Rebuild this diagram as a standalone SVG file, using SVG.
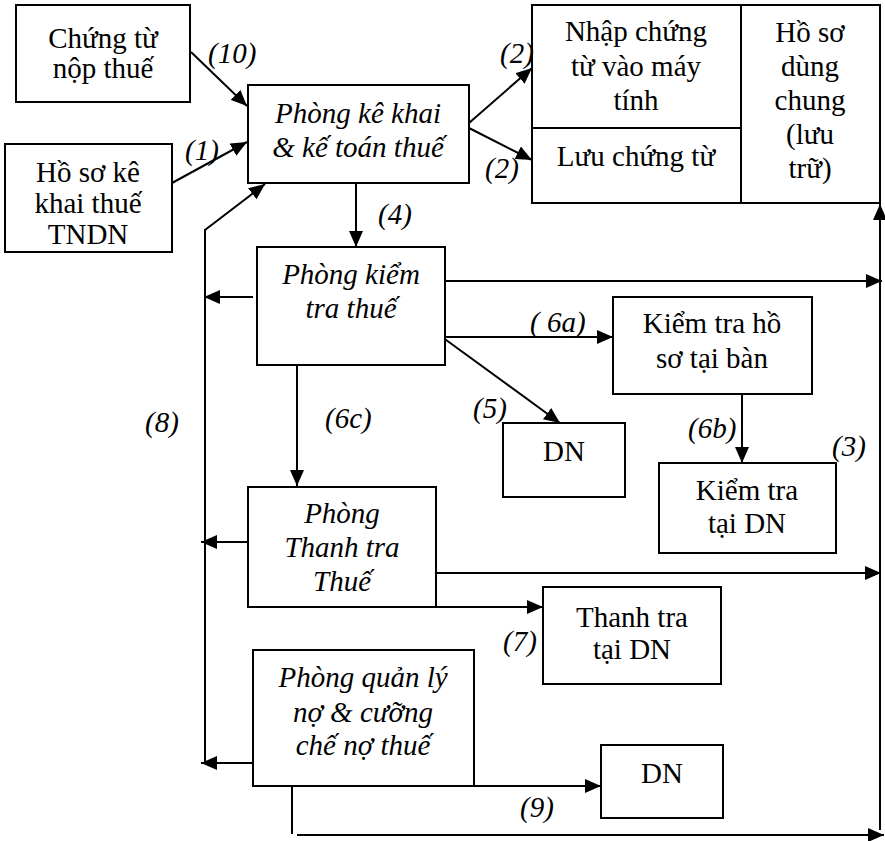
<svg xmlns="http://www.w3.org/2000/svg" width="885" height="841" viewBox="0 0 885 841" font-family="'Liberation Serif', 'Times New Roman', Times, 'DejaVu Serif', serif">
<style>
.box{fill:#fff;stroke:#000;stroke-width:2}
text{font-family:'Liberation Serif','Times New Roman',Times,'DejaVu Serif',serif;font-size:29px;fill:#000}
.t{text-anchor:middle}
.i{font-style:italic}
.lb{font-style:italic}
.c{fill:none;stroke:#000;stroke-width:2}
</style>
<defs>
<marker id="ah" markerUnits="userSpaceOnUse" markerWidth="18" markerHeight="14" refX="16" refY="7" orient="auto">
<path d="M0,0 L16,7 L0,14 z" fill="#000"/>
</marker>
</defs>
<rect width="885" height="841" fill="#fff"/>
<g id="connectors">
<line class="c" x1="191" y1="52" x2="247" y2="106" marker-end="url(#ah)"/>
<line class="c" x1="172" y1="183" x2="247" y2="142" marker-end="url(#ah)"/>
<line class="c" x1="205" y1="230" x2="265" y2="184" marker-end="url(#ah)"/>
<line class="c" x1="205" y1="229" x2="205" y2="764"/>
<line class="c" x1="469" y1="123" x2="532" y2="68" marker-end="url(#ah)"/>
<line class="c" x1="469" y1="128" x2="532" y2="160" marker-end="url(#ah)"/>
<line class="c" x1="356" y1="183" x2="356" y2="247" marker-end="url(#ah)"/>
<line class="c" x1="253" y1="297" x2="204" y2="297" marker-end="url(#ah)"/>
<line class="c" x1="445" y1="281" x2="882" y2="281" marker-end="url(#ah)"/>
<line class="c" x1="442" y1="337" x2="613" y2="337" marker-end="url(#ah)"/>
<line class="c" x1="442" y1="337" x2="560" y2="423" marker-end="url(#ah)"/>
<line class="c" x1="742" y1="394" x2="742" y2="463" marker-end="url(#ah)"/>
<line class="c" x1="297" y1="362" x2="297" y2="486" marker-end="url(#ah)"/>
<line class="c" x1="248" y1="542" x2="201" y2="542" marker-end="url(#ah)"/>
<line class="c" x1="436" y1="573" x2="881" y2="573" marker-end="url(#ah)"/>
<line class="c" x1="436" y1="607" x2="543" y2="607" marker-end="url(#ah)"/>
<line class="c" x1="253" y1="763" x2="201" y2="763" marker-end="url(#ah)"/>
<line class="c" x1="474" y1="786" x2="601" y2="786" marker-end="url(#ah)"/>
<line class="c" x1="292" y1="786" x2="292" y2="834"/>
<line class="c" x1="297" y1="835" x2="884" y2="835" marker-end="url(#ah)"/>
<line class="c" x1="880" y1="830" x2="880" y2="204" marker-end="url(#ah)"/>
</g>
<g id="n_chungtu">
<rect class="box" x="16" y="5" width="174" height="97"/>
<text class="t" x="103" y="48">Chứng từ</text>
<text class="t" x="103" y="78">nộp thuế</text>
</g>
<g id="n_hoso">
<rect class="box" x="5" y="144" width="167" height="108"/>
<text class="t" x="88" y="182">Hồ sơ kê</text>
<text class="t" x="88" y="213">khai thuế</text>
<text class="t" x="88" y="244">TNDN</text>
</g>
<g id="n_kekhai">
<rect class="box" x="248" y="85" width="221" height="98"/>
<text class="t i" x="358" y="123">Phòng kê khai</text>
<text class="t i" x="358" y="157">&amp; kế toán thuế</text>
</g>
<g id="n_topright">
<rect class="box" x="532" y="5" width="348" height="198"/>
<line class="c" x1="741" y1="5" x2="741" y2="203"/>
<line class="c" x1="532" y1="128" x2="741" y2="128"/>
<text class="t" x="636" y="41">Nhập chứng</text>
<text class="t" x="636" y="76">từ vào máy</text>
<text class="t" x="636" y="110">tính</text>
<text class="t" x="636" y="166">Lưu chứng từ</text>
<text class="t" x="810" y="42">Hồ sơ</text>
<text class="t" x="810" y="76">dùng</text>
<text class="t" x="810" y="110">chung</text>
<text class="t" x="810" y="144">(lưu</text>
<text class="t" x="810" y="178">trữ)</text>
</g>
<g id="n_kiemtra">
<rect class="box" x="257" y="247" width="188" height="118"/>
<text class="t i" x="351" y="284">Phòng kiểm</text>
<text class="t i" x="351" y="318">tra thuế</text>
</g>
<g id="n_taiban">
<rect class="box" x="613" y="297" width="199" height="97"/>
<text class="t" x="712" y="333">Kiểm tra hồ</text>
<text class="t" x="712" y="368">sơ tại bàn</text>
</g>
<g id="n_dn1">
<rect class="box" x="503" y="423" width="122" height="74"/>
<text class="t" x="564" y="461">DN</text>
</g>
<g id="n_kiemtradn">
<rect class="box" x="659" y="463" width="177" height="90"/>
<text class="t" x="747" y="500">Kiểm tra</text>
<text class="t" x="747" y="533">tại DN</text>
</g>
<g id="n_thanhtra">
<rect class="box" x="248" y="487" width="188" height="120"/>
<text class="t i" x="342" y="523">Phòng</text>
<text class="t i" x="342" y="557">Thanh tra</text>
<text class="t i" x="342" y="591">Thuế</text>
</g>
<g id="n_thanhtradn">
<rect class="box" x="543" y="587" width="178" height="97"/>
<text class="t" x="632" y="627">Thanh tra</text>
<text class="t" x="632" y="659">tại DN</text>
</g>
<g id="n_quanly">
<rect class="box" x="253" y="650" width="221" height="136"/>
<text class="t i" x="363" y="687">Phòng quản lý</text>
<text class="t i" x="363" y="722">nợ &amp; cưỡng</text>
<text class="t i" x="363" y="755">chế nợ thuế</text>
</g>
<g id="n_dn2">
<rect class="box" x="601" y="745" width="122" height="73"/>
<text class="t" x="662" y="783">DN</text>
</g>
<g id="labels">
<text class="lb" x="208" y="63">(10)</text>
<text class="lb" x="185" y="160">(1)</text>
<text class="lb" x="500" y="63">(2)</text>
<text class="lb" x="485" y="178">(2)</text>
<text class="lb" x="378" y="224">(4)</text>
<text class="lb" x="530" y="332">( 6a)</text>
<text class="lb" x="473" y="418">(5)</text>
<text class="lb" x="688" y="438">(6b)</text>
<text class="lb" x="832" y="456">(3)</text>
<text class="lb" x="325" y="428">(6c)</text>
<text class="lb" x="145" y="432">(8)</text>
<text class="lb" x="503" y="651">(7)</text>
<text class="lb" x="520" y="817">(9)</text>
</g>
</svg>
